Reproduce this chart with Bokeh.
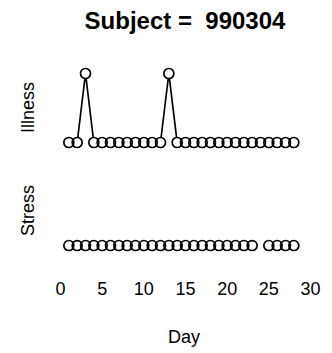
from bokeh.plotting import figure
from bokeh.models import Range1d, Label, FixedTicker, ColumnDataSource
from bokeh.embed import file_html
from bokeh.resources import INLINE
import numpy as np

days = list(range(1, 29))
illness = [0, 0, 1, 0, 0, 0, 0, 0, 0, 0, 0, 0, 1, 0, 0, 0, 0, 0, 0, 0, 0, 0, 0, 0, 0, 0, 0, 0]
stress = [0]*23 + [np.nan] + [0]*4
x_ticks = [0, 5, 10, 15, 20, 25, 30]
title_text = "Subject = \u00a0990304"
x_label = "Day"
panel_labels = ["Illness", "Stress"]

FB = 270  # frame bottom in page pixels (frame spans full width and top)

p = figure(width=332, height=353, output_backend="svg", toolbar_location=None,
           x_range=Range1d(-7.2, 32.64), y_range=Range1d(-1.855, 2.058),
           min_border_left=0, min_border_right=0, min_border_top=0,
           min_border_bottom=353-FB, y_axis_location=None)
p.extra_y_ranges = {"stress": Range1d(-0.362, 3.551)}
p.outline_line_color = None
p.xgrid.visible = False
p.ygrid.visible = False
p.background_fill_color = "white"
p.border_fill_color = "white"

src_ill = ColumnDataSource(dict(x=days, y=illness))
src_st = ColumnDataSource(dict(x=days, y=stress))

LW = 1.7
SZ = 10
for src, rng in [(src_ill, "default"), (src_st, "stress")]:
    p.line("x", "y", source=src, line_color="black", line_width=LW, y_range_name=rng)
for src, rng in [(src_ill, "default"), (src_st, "stress")]:
    p.scatter("x", "y", source=src, size=SZ, marker="circle", fill_color="white",
              line_color=None, y_range_name=rng)
for src, rng in [(src_ill, "default"), (src_st, "stress")]:
    p.scatter("x", "y", source=src, size=SZ, marker="circle", fill_color=None,
              line_color="black", line_width=LW, y_range_name=rng)

ax = p.xaxis[0]
ax.ticker = FixedTicker(ticks=x_ticks)
ax.axis_line_color = None
ax.major_tick_line_color = None
ax.minor_tick_line_color = None
ax.major_tick_out = 0
ax.major_label_standoff = 11
ax.major_label_text_font = "Liberation Sans"
ax.major_label_text_font_size = "18px"
ax.major_label_text_color = "black"
# leading no-break spaces shift the centred label right, onto the data area's centre
ax.axis_label = "\u00a0" * 7 + x_label
ax.axis_label_standoff = 29
ax.axis_label_text_font = "Liberation Sans"
ax.axis_label_text_font_size = "18px"
ax.axis_label_text_font_style = "normal"
ax.axis_label_text_color = "black"

p.add_layout(Label(x=184.5, y=FB-20, x_units="screen", y_units="screen", text=title_text,
                   text_font="Liberation Sans", text_font_style="bold", text_font_size="24px",
                   text_align="center", text_baseline="middle", text_color="black"))
for txt, yc in zip(panel_labels, [107, 210]):
    p.add_layout(Label(x=27, y=FB-yc, x_units="screen", y_units="screen", text=txt,
                       angle=np.pi/2, text_font="Liberation Sans", text_font_size="18px",
                       text_align="center", text_baseline="middle", text_color="black"))

open("out.html", "w").write(file_html(p, INLINE))
